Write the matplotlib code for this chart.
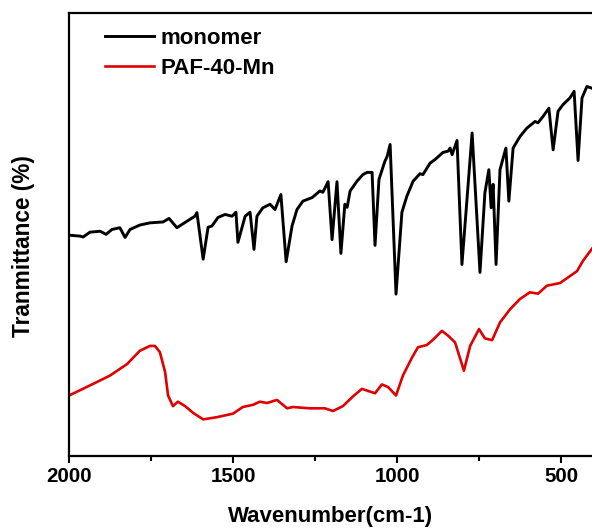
import matplotlib
matplotlib.use("Agg")
import matplotlib.pyplot as plt
from matplotlib.ticker import MultipleLocator

plt.rcParams['font.family'] = ['Liberation Sans', 'DejaVu Sans']
plt.rcParams['font.weight'] = 'bold'

# monomer spectrum (wavenumber cm-1, transmittance a.u.)
mono_wn = [1997, 1966, 1957, 1936, 1905, 1887, 1869, 1845, 1829, 1814, 1784, 1753,
           1713, 1695, 1671, 1646, 1616, 1610, 1591, 1576, 1564, 1546, 1524, 1503,
           1491, 1485, 1463, 1448, 1436, 1427, 1409, 1387, 1372, 1354, 1338, 1320,
           1305, 1287, 1259, 1235, 1226, 1210, 1198, 1183, 1171, 1159, 1152, 1143,
           1122, 1104, 1091, 1076, 1067, 1055, 1037, 1030, 1021, 1003, 985, 970,
           951, 930, 921, 899, 884, 860, 844, 838, 832, 817, 802, 771, 747, 732,
           720, 713, 707, 698, 686, 668, 659, 646, 625, 604, 579, 570, 555, 537,
           524, 509, 494, 473, 460, 448, 436, 421, 405]
mono_t = [49.8, 49.6, 49.4, 50.5, 50.7, 50.0, 51.1, 51.5, 49.3, 51.1, 52.1, 52.6,
          52.8, 53.6, 51.5, 52.7, 54.1, 54.9, 44.4, 51.6, 51.9, 53.8, 54.5, 54.1,
          55.0, 48.2, 54.1, 55.0, 46.6, 54.1, 56.0, 56.8, 55.6, 59.0, 43.8, 51.9,
          55.6, 57.5, 58.3, 59.8, 59.5, 61.9, 48.8, 61.9, 45.7, 56.8, 56.1, 59.8,
          62.0, 63.5, 64.0, 64.0, 47.5, 62.4, 66.5, 67.6, 70.3, 36.5, 55.0, 58.6,
          62.0, 63.7, 63.5, 66.1, 66.9, 68.5, 68.8, 69.5, 68.0, 71.2, 43.2, 72.9,
          41.4, 59.4, 64.6, 56.0, 61.3, 43.2, 64.6, 69.5, 57.5, 69.5, 72.1, 74.0,
          75.5, 75.2, 76.6, 78.5, 69.1, 77.8, 79.3, 80.8, 82.3, 66.7, 80.8, 83.4, 83.0]

# PAF-40-Mn spectrum
paf_wn = [1997, 1927, 1875, 1823, 1784, 1753, 1738, 1723, 1707, 1698, 1683, 1668,
          1646, 1622, 1591, 1549, 1500, 1470, 1439, 1418, 1396, 1366, 1335, 1317,
          1265, 1220, 1195, 1165, 1134, 1107, 1067, 1046, 1027, 1003, 982, 954,
          936, 909, 890, 863, 844, 823, 796, 777, 750, 732, 710, 686, 655, 625,
          595, 570, 543, 503, 451, 433, 405]
paf_t = [13.7, 16.2, 18.1, 20.7, 23.7, 24.8, 24.8, 23.4, 18.9, 13.6, 11.2, 12.2,
         11.2, 9.7, 8.2, 8.7, 9.5, 11.0, 11.5, 12.2, 11.9, 12.6, 10.7, 11.0,
         10.7, 10.7, 10.1, 11.2, 13.4, 15.1, 14.1, 16.1, 15.5, 13.6, 18.1, 22.2,
         24.5, 25.0, 26.2, 28.2, 27.1, 25.6, 19.2, 24.8, 28.6, 26.5, 26.1, 30.1,
         33.1, 35.4, 36.9, 36.6, 38.4, 39.0, 41.7, 44.0, 46.8]

x_ticks = [2000, 1500, 1000, 500]

W, H = 592, 529
fig = plt.figure(figsize=(W / 100, H / 100), dpi=100)
ax = fig.add_axes([69 / W, 1 - 455.7 / H, 1 - 69 / W, (455.7 - 13) / H])

ax.plot(mono_wn, mono_t, color='black', lw=2.1, label='monomer')
ax.plot(paf_wn, paf_t, color='#e00000', lw=1.9, label='PAF-40-Mn')

ax.set_xlim(2000, 2000 - (592 - 69) / 0.328)
ax.set_ylim(0, 100)
ax.set_xticks(x_ticks)
ax.xaxis.set_minor_locator(MultipleLocator(250))
ax.set_yticks([])
ax.tick_params(axis='x', which='major', direction='out', length=5, width=1.5,
               labelsize=14.8, pad=3)
ax.tick_params(axis='x', which='minor', direction='out', length=3.6, width=1.5)
for lbl in ax.get_xticklabels():
    lbl.set_fontweight('bold')
ax.spines['right'].set_visible(False)
for s in ['left', 'top', 'bottom']:
    ax.spines[s].set_linewidth(1.6)

fig.text(331 / W, 7.3 / H, 'Wavenumber(cm-1)', fontsize=16, fontweight='bold',
         ha='center', va='baseline')
fig.text(24 / W, 1 - 246.5 / H, 'Tranmittance (%)', fontsize=16.3, fontweight='bold',
         ha='center', va='center', rotation=90)

leg = ax.legend(loc='upper left', bbox_to_anchor=(0.052, 0.986), frameon=False,
                prop={'weight': 'bold', 'size': 16}, handlelength=2.18,
                handletextpad=0.32, labelspacing=0.38, borderaxespad=0)

fig.savefig('out.png', dpi=100)
